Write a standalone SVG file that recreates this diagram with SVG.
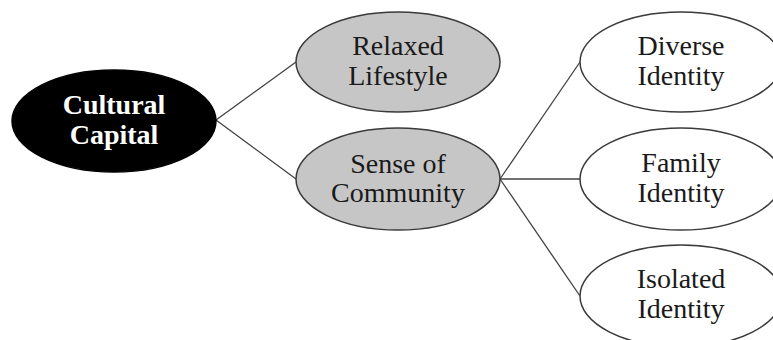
<svg xmlns="http://www.w3.org/2000/svg" width="773" height="340" viewBox="0 0 773 340">
  <style>
    .node ellipse { stroke: #3a3a3a; stroke-width: 1.5; }
    .root ellipse { fill: #000; stroke: #000; }
    .mid ellipse { fill: #c6c6c6; }
    .leaf ellipse { fill: #fff; }
    text { font-family: "Liberation Serif", "Times New Roman", serif; font-size: 28px; text-anchor: middle; fill: #1a1a1a; }
    .root text { fill: #fff; font-weight: bold; }
    .links line { stroke: #404040; stroke-width: 1.3; }
  </style>
  <rect width="773" height="340" fill="#fff"/>

  <g class="links">
    <line x1="216" y1="120" x2="296" y2="62"/>
    <line x1="216" y1="120" x2="296" y2="179"/>
    <line x1="500" y1="179" x2="580" y2="62"/>
    <line x1="500" y1="179" x2="580" y2="179"/>
    <line x1="500" y1="179" x2="580" y2="296"/>
  </g>

  <g id="cultural-capital" class="node root">
    <ellipse cx="114" cy="121" rx="102" ry="51"/>
    <text x="114" y="114">Cultural</text>
    <text x="114" y="144">Capital</text>
  </g>

  <g id="relaxed-lifestyle" class="node mid">
    <ellipse cx="398" cy="62" rx="102" ry="50"/>
    <text x="398" y="55">Relaxed</text>
    <text x="398" y="85">Lifestyle</text>
  </g>

  <g id="sense-of-community" class="node mid">
    <ellipse cx="398" cy="179" rx="102" ry="51"/>
    <text x="398" y="173">Sense of</text>
    <text x="398" y="202">Community</text>
  </g>

  <g id="diverse-identity" class="node leaf">
    <ellipse cx="681" cy="62" rx="101" ry="50"/>
    <text x="681" y="55">Diverse</text>
    <text x="681" y="85">Identity</text>
  </g>

  <g id="family-identity" class="node leaf">
    <ellipse cx="681" cy="179" rx="101" ry="51"/>
    <text x="681" y="172">Family</text>
    <text x="681" y="202">Identity</text>
  </g>

  <g id="isolated-identity" class="node leaf">
    <ellipse cx="681" cy="296" rx="101" ry="51"/>
    <text x="681" y="288">Isolated</text>
    <text x="681" y="318">Identity</text>
  </g>
</svg>
